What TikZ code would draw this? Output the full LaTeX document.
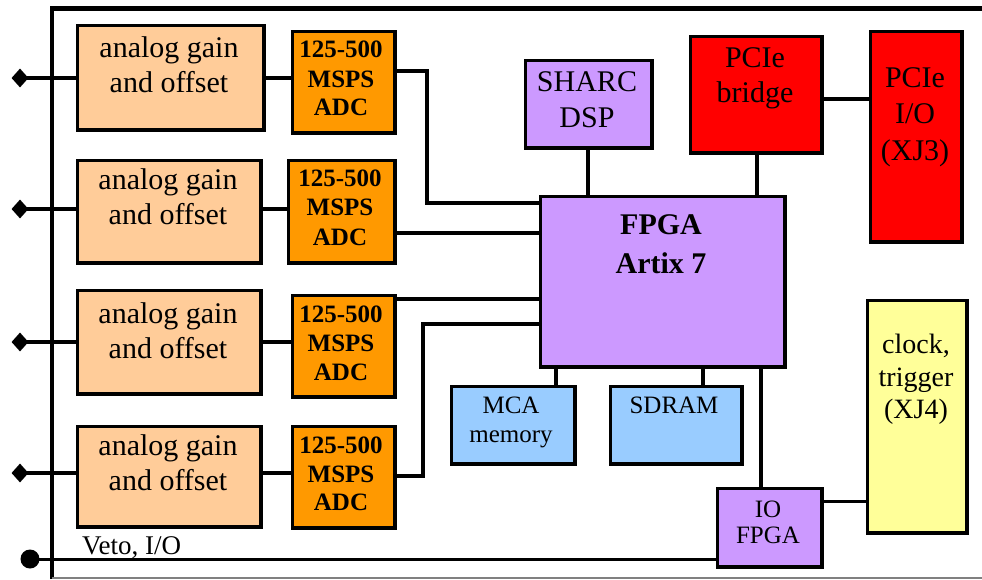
\documentclass[tikz,border=0pt]{standalone}
\usepackage{fontspec}
\setmainfont{Liberation Serif}
\usetikzlibrary{shapes.geometric}
\definecolor{cAnalog}{RGB}{255,204,153}
\definecolor{cADC}{RGB}{255,153,0}
\definecolor{cPurple}{RGB}{204,153,255}
\definecolor{cRed}{RGB}{255,0,0}
\definecolor{cBlue}{RGB}{153,204,255}
\definecolor{cYellow}{RGB}{255,255,153}
\tikzset{
  box/.style={draw=black, line width=3.5pt, rectangle, inner sep=0pt, line join=miter},
  conn/.style={line width=4.5pt, line join=miter},
  thinconn/.style={line width=3pt},
  lbl/.style={inner sep=0pt, anchor=base},
  pin/.style={diamond, fill=black, inner sep=0pt, minimum width=17pt, minimum height=19pt},
}
\newcommand\mkbox[6]{\node[box, fill=#6, minimum width={#4pt-#2pt-3.5pt}, minimum height={#5pt-#3pt-3.5pt}, anchor=north west] (#1) at (#2+1.75,#3+1.75) {};}
\newcommand\fAn{\fontsize{30}{35}\selectfont}
\newcommand\fAdc{\fontsize{25}{29}\selectfont\bfseries}
\newcommand\fBig{\fontsize{30}{36}\selectfont}
\newcommand\fFpga{\fontsize{30}{39}\selectfont\bfseries}
\newcommand\fSm{\fontsize{25}{29}\selectfont}
\newcommand\fClk{\fontsize{28}{32.5}\selectfont}
\begin{document}
\begin{tikzpicture}[x=1pt,y=-1pt]
\useasboundingbox (0,0) rectangle (982,579);
% frame
\draw[line width=4.5pt] (52,579) -- (52,8.5) -- (982,8.5);
\draw[gray, line width=1.5pt] (52,578) -- (982,578);
% boxes
\mkbox{A1}{74}{22}{264}{130}{cAnalog}
\mkbox{A2}{74}{157}{261}{263}{cAnalog}
\mkbox{A3}{74}{287}{261}{394}{cAnalog}
\mkbox{A4}{74}{423}{261}{527}{cAnalog}
\mkbox{D1}{289}{28}{395}{133}{cADC}
\mkbox{D2}{285}{157}{395}{263}{cADC}
\mkbox{D3}{289}{292}{395}{397}{cADC}
\mkbox{D4}{289}{423}{395}{528}{cADC}
\mkbox{F}{537}{193}{785}{367}{cPurple}
\mkbox{DSP}{522}{57}{652}{148}{cPurple}
\mkbox{BR}{687}{33}{822}{153}{cRed}
\mkbox{PIO}{867}{28}{962}{242}{cRed}
\mkbox{MCA}{448}{383}{575}{464}{cBlue}
\mkbox{RAM}{607}{383}{742}{464}{cBlue}
\mkbox{IO}{714}{485}{822}{567}{cPurple}
\mkbox{CLK}{864}{297}{967}{533}{cYellow}
% texts: analog
\node[lbl, font=\fAn] (tA1a) at (169,57) {analog gain};
\node[lbl, font=\fAn] (tA1b) at (169,92) {and offset};
\node[lbl, font=\fAn] (tA2a) at (168,189) {analog gain};
\node[lbl, font=\fAn] (tA2b) at (168,224) {and offset};
\node[lbl, font=\fAn] (tA3a) at (168,323) {analog gain};
\node[lbl, font=\fAn] (tA3b) at (168,358) {and offset};
\node[lbl, font=\fAn] (tA4a) at (168,455) {analog gain};
\node[lbl, font=\fAn] (tA4b) at (168,490) {and offset};
% texts: ADC
\node[lbl, font=\fAdc] (tD1a) at (341,57) {125-500};
\node[lbl, font=\fAdc] (tD1b) at (341,87) {MSPS};
\node[lbl, font=\fAdc] (tD1c) at (341,115) {ADC};
\node[lbl, font=\fAdc] (tD2a) at (340,186) {125-500};
\node[lbl, font=\fAdc] (tD2b) at (340,215) {MSPS};
\node[lbl, font=\fAdc] (tD2c) at (340,245) {ADC};
\node[lbl, font=\fAdc] (tD3a) at (341,322) {125-500};
\node[lbl, font=\fAdc] (tD3b) at (341,351) {MSPS};
\node[lbl, font=\fAdc] (tD3c) at (341,380) {ADC};
\node[lbl, font=\fAdc] (tD4a) at (341,453) {125-500};
\node[lbl, font=\fAdc] (tD4b) at (341,482) {MSPS};
\node[lbl, font=\fAdc] (tD4c) at (341,510) {ADC};
% texts: others
\node[lbl, font=\fFpga] (tFa) at (661,234) {FPGA};
\node[lbl, font=\fFpga] (tFb) at (661,273) {Artix 7};
\node[lbl, font=\fBig] (tDSPa) at (587,91) {SHARC};
\node[lbl, font=\fBig] (tDSPb) at (587,127) {DSP};
\node[lbl, font=\fBig] (tBRa) at (755,67) {PCIe};
\node[lbl, font=\fBig] (tBRb) at (755,102) {bridge};
\node[lbl, font=\fBig] (tPIOa) at (915,87) {PCIe};
\node[lbl, font=\fBig] (tPIOb) at (915,123) {I/O};
\node[lbl, font=\fBig] (tPIOc) at (915,160) {(XJ3)};
\node[lbl, font=\fSm] (tMCAa) at (511,413) {MCA};
\node[lbl, font=\fSm] (tMCAb) at (511,442) {memory};
\node[lbl, font=\fSm] (tRAM) at (674,413) {SDRAM};
\node[lbl, font=\fSm] (tIOa) at (768,517) {IO};
\node[lbl, font=\fSm] (tIOb) at (768,543) {FPGA};
\node[lbl, font=\fClk] (tCLKa) at (916,353) {clock,};
\node[lbl, font=\fClk] (tCLKb) at (916,386) {trigger};
\node[lbl, font=\fClk] (tCLKc) at (916,418) {(XJ4)};
\node[inner sep=0pt, anchor=base west, font=\fontsize{27}{30}\selectfont] (tVeto) at (82,554) {Veto, I/O};
% input pins
\node[pin] (p1) at (20,78) {};
\node[pin] (p2) at (20,209) {};
\node[pin] (p3) at (20,342) {};
\node[pin] (p4) at (20,473) {};
\node[circle, fill=black, inner sep=0pt, minimum size=19pt] (pv) at (30,559) {};
\draw[conn] (p1.center) -- (A1.west |- p1);
\draw[conn] (p2.center) -- (A2.west |- p2);
\draw[conn] (p3.center) -- (A3.west |- p3);
\draw[conn] (p4.center) -- (A4.west |- p4);
\draw[thinconn] (pv.center) -- (IO.west |- pv);
% analog to ADC
\draw[conn] (A1.east |- p1) -- (D1.west |- p1);
\draw[conn] (A2.east |- p2) -- (D2.west |- p2);
\draw[conn] (A3.east |- p3) -- (D3.west |- p3);
\draw[conn] (A4.east |- p4) -- (D4.west |- p4);
% ADC to FPGA
\coordinate (j1) at (427,203);
\coordinate (j4) at (423,324);
\draw[conn] (D1.east |- 0,71) -| (j1) -- (F.west |- j1);
\draw[conn] (D2.east |- 0,233) -- (F.west |- 0,233);
\draw[conn] (D3.east |- 0,299) -- (F.west |- 0,299);
\draw[conn] (D4.east |- 0,476) -| (j4) -- (F.west |- j4);
% FPGA links
\draw[conn] (DSP.south -| 588,0) -- (F.north -| 588,0);
\draw[conn] (BR.south -| 757,0) -- (F.north -| 757,0);
\draw[conn] (BR.east |- 0,99) -- (PIO.west |- 0,99);
\draw[conn] (F.south -| 556,0) -- (MCA.north -| 556,0);
\draw[conn] (F.south -| 703,0) -- (RAM.north -| 703,0);
\draw[conn] (F.south -| 761,0) -- (IO.north -| 761,0);
\draw[thinconn] (IO.east |- 0,501) -- (CLK.west |- 0,501);
\end{tikzpicture}
\end{document}
